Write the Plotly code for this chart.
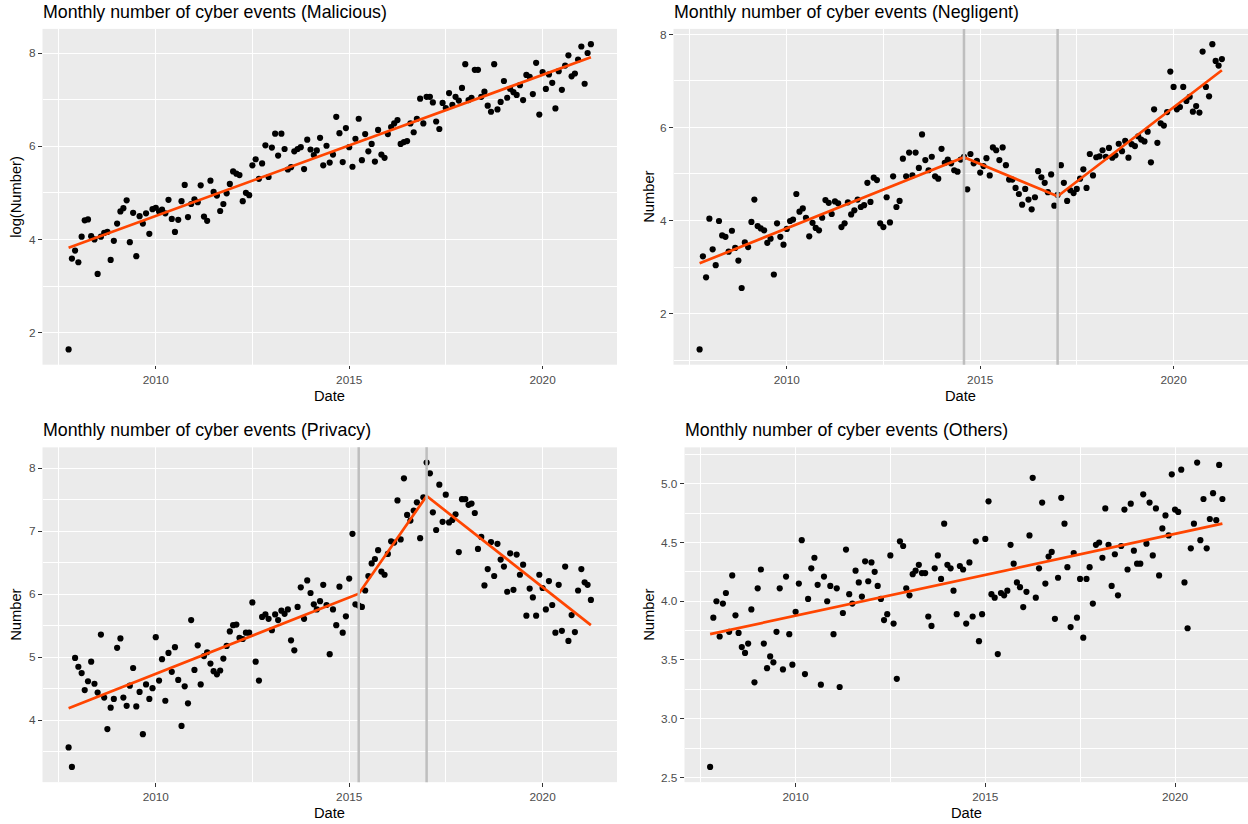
import pandas as pd
import plotly.graph_objects as go

# ---------------- data ----------------
start_month = "2007-10-01"
n_months = 163

malicious = [1.64, 3.59, 3.76, 3.51, 4.06, 4.41, 4.43, 4.07, 4.0, 3.26,
             4.06, 4.14, 4.16, 3.56, 3.97, 4.34, 4.6, 4.67, 4.84, 3.94,
             4.57, 3.64, 4.5, 4.34, 4.56, 4.12, 4.65, 4.68, 4.6, 4.64,
             4.56, 4.85, 4.44, 4.16, 4.42, 4.82, 5.17, 4.48, 4.76, 4.86,
             4.8, 5.16, 4.49, 4.4, 5.26, 5.02, 4.94, 4.61, 4.76, 4.99,
             5.19, 5.46, 5.41,
             5.38, 4.82, 5.0, 4.95, 5.59, 5.72, 5.3, 5.63, 6.02, 5.34,
             5.97, 6.27, 5.8, 6.27, 5.94, 5.5, 5.55, 5.89, 5.94, 5.98,
             5.51, 6.14, 5.93, 5.81, 5.91, 6.18, 5.59, 6.01, 5.65, 5.82,
             6.63, 6.28, 5.66, 6.39, 5.98, 5.56, 6.16, 6.59, 5.7, 6.26,
             5.89, 6.05, 5.67, 6.35, 5.82, 5.75, 6.26, 6.41, 6.49, 6.56,
             6.05, 6.09, 6.11, 6.49, 6.3, 6.59, 7.02, 6.49, 7.06,
             7.06, 6.94, 6.53, 6.37, 6.93, 6.82, 7.14, 6.89, 7.06, 6.98,
             7.25, 7.76, 6.99, 7.04, 7.64, 7.64, 7.06, 7.17, 6.87, 6.74,
             7.76, 6.79, 6.95, 7.4, 7.04, 7.23, 7.16, 7.1, 7.31, 6.99,
             7.53, 7.49, 7.12, 7.79, 6.68, 7.59, 7.23, 7.54, 7.36, 6.81,
             7.61, 7.21, 7.73, 7.95, 7.5, 7.56, 7.86, 8.14, 7.34, 8.0,
             8.19]

negligent = [1.23, 3.23, 2.78, 4.04, 3.38, 3.04, 3.99, 3.68, 3.65, 3.33,
             3.78, 3.41, 3.14, 2.55, 3.53, 3.43, 3.97, 4.45, 3.88, 3.83,
             3.79, 3.52, 3.61, 2.84, 3.94, 3.65, 3.48, 3.82, 3.99, 4.02,
             4.57, 4.19, 4.26, 4.06, 3.66, 3.95, 3.84, 3.79, 4.06, 4.44,
             4.38, 4.14, 4.41, 4.37, 3.86, 3.94, 4.39, 4.13, 4.22, 4.45,
             4.29, 4.33, 4.81, 4.4, 4.92, 4.87,
             3.94, 3.86, 4.5, 3.96, 4.95, 4.29, 4.42, 5.33, 4.95, 5.46,
             4.97, 5.46, 5.13, 5.85, 5.3, 5.08, 5.37, 4.95, 4.9, 5.54,
             5.24, 5.31, 5.23, 5.08, 5.05, 5.31, 5.37, 4.67, 5.43, 5.23,
             5.28, 5.03, 5.17, 5.34, 4.97, 5.57, 5.51, 5.3, 5.57, 5.19,
             4.88, 4.88, 4.7, 4.57, 4.34, 4.68, 4.45, 4.24, 4.5, 5.06,
             4.93, 4.81, 4.61, 4.99, 4.32,
             4.55, 5.19, 4.81, 4.42, 4.65, 4.59, 4.68, 4.9, 5.1, 4.7,
             5.43, 4.97, 5.36, 5.38, 5.51, 5.37, 5.56, 5.35, 5.4, 5.65,
             5.49, 5.71, 5.35, 5.64, 5.6, 5.81, 5.74, 5.7, 5.91, 5.25,
             6.39, 5.67, 6.09, 6.04, 6.33, 7.2, 6.87, 6.39, 6.44, 6.87,
             6.57, 6.66, 6.34, 6.46, 6.32, 7.63, 6.87, 6.67, 7.79, 7.43,
             7.33, 7.47]

privacy = [3.57, 3.26, 4.99, 4.85, 4.75, 4.48, 4.62, 4.93, 4.58, 4.44,
           5.36, 4.36, 3.86, 4.2, 4.34, 5.15, 5.3, 4.36, 4.23, 4.55,
           4.83, 4.22, 4.45, 3.78, 4.57, 4.34, 4.51, 5.32, 4.63, 4.97,
           4.31, 5.07, 4.77, 5.16, 4.64, 3.91, 4.54, 4.27, 5.59, 4.8,
           5.19, 4.57, 5.02, 5.08, 4.9, 4.78, 4.73, 4.79, 4.98, 5.18,
           5.41, 5.51, 5.52, 5.31,
           5.29, 5.39, 5.39, 5.87, 4.93, 4.63, 5.64, 5.68, 5.61, 5.43,
           5.68, 5.59, 5.74, 5.69, 5.76, 5.27, 5.11, 5.8, 6.11, 5.61,
           6.22, 6.02, 5.84, 5.76, 5.89, 6.15, 5.83, 5.05, 5.76, 5.51,
           6.12, 5.39, 5.65, 6.25, 6.96, 5.84, 5.82, 5.8, 6.06, 6.29,
           6.49, 6.56, 6.7, 6.36, 6.31, 6.64, 6.84, 6.82, 7.49, 6.87,
           7.84, 7.26, 7.17, 7.33, 7.46, 6.89, 7.54, 8.09,
           7.92, 7.3, 7.02, 7.74, 7.15, 7.58, 7.14, 7.18, 7.27, 6.67,
           7.51, 7.51, 7.42, 7.44, 7.29, 6.72, 6.91, 6.14, 6.4, 6.83,
           6.29, 6.8, 6.55, 6.44, 6.04, 6.65, 6.07, 6.63, 6.31, 6.47,
           5.66, 6.09, 5.95, 5.66, 6.31, 6.1, 5.76, 6.21, 5.83, 5.39,
           6.15, 5.42, 6.44, 5.26, 5.67, 5.4, 6.06, 6.4, 6.19, 6.15,
           5.91]

others = [2.59, 3.86, 4.0, 3.7, 3.98, 4.07, 3.74, 4.22, 3.88, 3.73,
          3.61, 3.56, 3.64, 3.93, 3.31, 4.11, 4.27, 3.64, 3.43, 3.53,
          3.48, 3.74, 4.11, 3.42, 4.21, 3.72, 3.46, 3.91, 4.15, 4.52,
          3.38, 4.02, 4.28, 4.37, 4.14, 3.29, 4.21, 4.0, 4.13, 3.72,
          4.11, 3.27, 3.9, 4.44, 4.06, 3.98, 4.26, 4.16, 4.04, 4.34,
          4.17, 4.33, 4.25, 4.13,
          4.02, 3.84, 3.89, 4.39, 3.81, 3.34, 4.51, 4.47, 4.11, 4.05,
          4.23, 4.26, 4.31, 4.24, 4.24, 3.87, 3.79, 4.28, 4.39, 4.19,
          4.66, 4.31, 4.28, 4.09, 3.89, 4.3, 4.27, 3.81, 4.33, 3.87,
          4.51, 3.66, 3.89, 4.53, 4.85, 4.06, 4.03, 3.55, 4.07, 4.05,
          4.09, 4.48, 4.32, 4.16, 4.12, 3.95, 4.08, 4.56, 5.05, 4.03,
          4.28, 4.84, 4.15, 4.38, 4.42, 3.85, 4.2, 4.88, 4.66, 4.29,
          3.78, 4.41, 3.86, 4.19, 3.69, 4.19, 4.29, 3.98, 4.48, 4.5,
          4.37, 4.79, 4.48, 4.13, 4.4, 4.05, 4.47, 4.78, 4.27, 4.83,
          4.43, 4.32, 4.32, 4.91, 4.49, 4.84, 4.39, 4.79, 4.22, 4.62,
          4.73, 4.56, 5.08, 4.78, 4.76, 5.12, 4.16, 3.77, 4.45, 4.66,
          5.18, 4.52, 4.87, 4.45, 4.7, 4.92, 4.69, 5.16, 4.87]

# fitted trends (knot dates and values)
malicious_fit_dates = ["2007-10-01", "2021-04-01"]
malicious_fit = [3.82, 7.91]
negligent_fit_dates = ["2007-10-01", "2014-08-01", "2017-01-01", "2021-04-01"]
negligent_fit = [3.08, 5.36, 4.52, 7.23]
negligent_breaks = ["2014-08-01", "2017-01-01"]
privacy_fit_dates = ["2007-10-01", "2015-04-01", "2017-01-01", "2021-04-01"]
privacy_fit = [4.19, 6.01, 7.56, 5.51]
privacy_breaks = ["2015-04-01", "2017-01-01"]
others_fit_dates = ["2007-10-01", "2021-04-01"]
others_fit = [3.72, 4.66]

titles = ["Monthly number of cyber events (Malicious)",
          "Monthly number of cyber events (Negligent)",
          "Monthly number of cyber events (Privacy)",
          "Monthly number of cyber events (Others)"]
y_titles = ["log(Number)", "Number", "Number", "Number"]
x_title = "Date"

dates = pd.date_range(start_month, periods=n_months, freq="MS")
for s in (malicious, negligent, privacy, others):
    assert len(s) == n_months

# ---------------- figure ----------------
W, H = 1248, 824
FONT = "Liberation Sans, Arial, Helvetica, sans-serif"
ORANGE = "#FF4500"
TICK_SIZE = 11.8
AXIS_TITLE_SIZE = 14.7
TITLE_SIZE = 17.8


def fx(px):
    return px / W


def fy(py):
    return 1 - py / H


def expand(lo, hi, f=0.05):
    d = (hi - lo) * f
    return [lo - d, hi + d]


t0, t1 = dates[0], dates[-1]
span = t1 - t0
x_range = [(t0 - span * 0.05).strftime("%Y-%m-%d %H:%M"),
           (t1 + span * 0.05).strftime("%Y-%m-%d %H:%M")]

panels = [
    dict(y=malicious, fx=malicious_fit_dates, fy=malicious_fit, br=[],
         xdom=(42.5, 617), ydom=(28, 365), dtick=2, minor=1, fmt=None,
         ytx=16),
    dict(y=negligent, fx=negligent_fit_dates, fy=negligent_fit, br=negligent_breaks,
         xdom=(673.5, 1248), ydom=(28, 365), dtick=2, minor=1, fmt=None,
         ytx=649),
    dict(y=privacy, fx=privacy_fit_dates, fy=privacy_fit, br=privacy_breaks,
         xdom=(42.5, 617), ydom=(448, 784), dtick=1, minor=0.5, fmt=None,
         ytx=16),
    dict(y=others, fx=others_fit_dates, fy=others_fit, br=[],
         xdom=(684.5, 1248), ydom=(448, 784), dtick=0.5, minor=0.25, fmt=".1f",
         ytx=649),
]

fig = go.Figure()
annotations = []
shapes = []
layout = {}

for i, p in enumerate(panels, start=1):
    sfx = "" if i == 1 else str(i)
    xa, ya = "x" + sfx, "y" + sfx
    fig.add_trace(go.Scatter(x=dates, y=p["y"], mode="markers",
                             marker=dict(color="black", size=6.2),
                             xaxis=xa, yaxis=ya, showlegend=False,
                             hoverinfo="skip"))
    fig.add_trace(go.Scatter(x=pd.to_datetime(p["fx"]), y=p["fy"], mode="lines",
                             line=dict(color=ORANGE, width=2.7),
                             xaxis=xa, yaxis=ya, showlegend=False,
                             hoverinfo="skip"))
    yr = expand(min(p["y"]), max(p["y"]))
    layout["xaxis" + sfx] = dict(
        domain=[fx(p["xdom"][0]), fx(p["xdom"][1])], anchor=ya,
        type="date", range=x_range, tickformat="%Y", dtick="M60",
        tick0="2010-01-01", ticks="outside", ticklen=3.7, tickwidth=1.1,
        tickcolor="#333333",
        tickfont=dict(size=TICK_SIZE, color="#4D4D4D", family=FONT),
        showgrid=True, gridcolor="white", gridwidth=1.4, zeroline=False,
        showline=False,
        minor=dict(showgrid=True, gridcolor="white", gridwidth=0.7,
                   dtick="M30", tick0="2010-01-01", ticks=""),
    )
    ydict = dict(
        domain=[fy(p["ydom"][1]), fy(p["ydom"][0])], anchor=xa,
        range=yr, dtick=p["dtick"], tick0=0, ticks="outside", ticklen=3.7,
        tickwidth=1.1, tickcolor="#333333",
        tickfont=dict(size=TICK_SIZE, color="#4D4D4D", family=FONT),
        showgrid=True, gridcolor="white", gridwidth=1.4, zeroline=False,
        showline=False,
        minor=dict(showgrid=True, gridcolor="white", gridwidth=0.7,
                   dtick=p["minor"], tick0=0, ticks=""),
    )
    if p["fmt"]:
        ydict["tickformat"] = p["fmt"]
    layout["yaxis" + sfx] = ydict

    for b in p["br"]:
        shapes.append(dict(type="line", xref=xa, yref=ya + " domain",
                           x0=b, x1=b, y0=0, y1=1, layer="above",
                           line=dict(color="#BEBEBE", width=2.5)))

    x0p, x1p = p["xdom"]
    y0p, y1p = p["ydom"]
    annotations.append(dict(text=titles[i - 1], xref="paper", yref="paper",
                            x=fx(x0p - 2), y=fy(y0p - 17), xanchor="left",
                            yanchor="middle", showarrow=False,
                            font=dict(size=TITLE_SIZE, color="black", family=FONT)))
    annotations.append(dict(text=x_title, xref="paper", yref="paper",
                            x=fx((x0p + x1p) / 2), y=fy(y1p + 31),
                            xanchor="center", yanchor="middle", showarrow=False,
                            font=dict(size=AXIS_TITLE_SIZE, color="black", family=FONT)))
    annotations.append(dict(text=y_titles[i - 1], xref="paper", yref="paper",
                            x=fx(p["ytx"]), y=fy((y0p + y1p) / 2),
                            xanchor="center", yanchor="middle", textangle=-90,
                            showarrow=False,
                            font=dict(size=AXIS_TITLE_SIZE, color="black", family=FONT)))

fig.update_layout(
    width=W, height=H, margin=dict(l=0, r=0, t=0, b=0),
    paper_bgcolor="white", plot_bgcolor="#EBEBEB",
    font=dict(family=FONT), showlegend=False,
    annotations=annotations, shapes=shapes, **layout,
)

fig.write_html("out.html", config={"displayModeBar": False})
